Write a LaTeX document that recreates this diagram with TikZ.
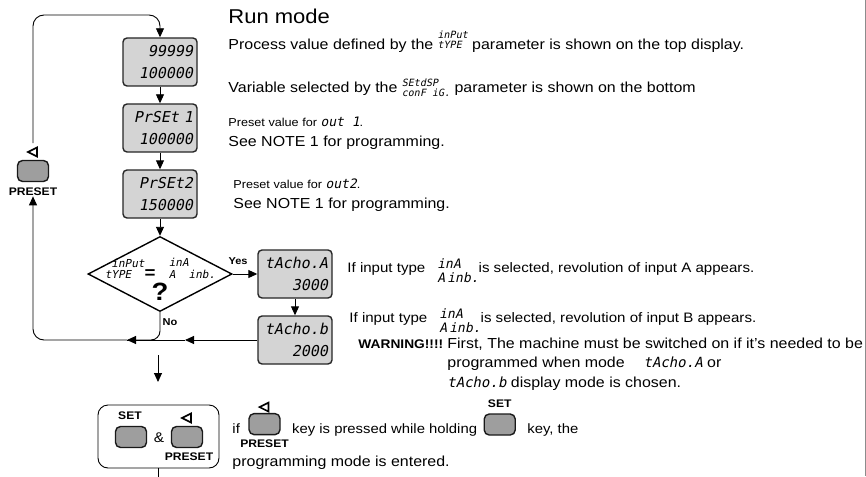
\documentclass[tikz,border=0pt]{standalone}
\usepackage{fontspec}
\setmainfont{Liberation Sans}[FakeStretch=1.1]
\newfontfamily\segfont{DejaVu Sans Mono}[FakeSlant=0.2]
\usetikzlibrary{positioning,shapes.geometric,arrows.meta}

% two stacked display words, as printed inside the text
\newcommand\segpair[4]{\raisebox{#1}{\segfont\fontsize{#2}{#2}\selectfont
  \begin{tabular}[b]{@{}l@{}}#3\\#4\end{tabular}}}
\newcommand\seg[2][13]{{\segfont\fontsize{#1}{#1}\selectfont #2}}

\tikzset{
  display/.style={draw=black!85, line width=1.4pt, rounded corners=4pt, fill=black!17,
    minimum width=74pt, minimum height=48pt, text width=66pt, align=right, inner sep=0pt,
    font=\segfont\fontsize{15}{22}\selectfont},
  keybtn/.style={draw=black!90, line width=1.4pt, rounded corners=5pt, fill=black!38,
    minimum width=31pt, minimum height=21pt, inner sep=0pt},
  keyname/.style={font=\bfseries\fontsize{11}{11}\selectfont, inner sep=0pt},
  branch/.style={font=\bfseries\fontsize{10}{10}\selectfont, inner sep=0pt},
  txt/.style={anchor=base west, inner sep=0pt, font=\fontsize{14.5}{17}\selectfont},
  smalltxt/.style={txt, font=\fontsize{11.5}{14}\selectfont},
  pretri/.pic={\draw[line width=1.6pt] (4,-4.5) -- (-5,0) -- (4,4.5) -- cycle;}
}

\begin{document}
\begin{tikzpicture}[x=1pt, y=-1pt, node distance=66pt, >={Triangle[length=9pt,width=8pt]}, line width=0.9pt]
\useasboundingbox (0,0) rectangle (866,476);

% run mode column
\node[display] (d1) at (160,62) {99999\\100000};
\node[display, below of=d1] (d2) {PrSEt 1\\100000};
\node[display, below of=d2] (d3) {PrSEt2\\150000};
\node[draw, diamond, line width=1.4pt, minimum width=144pt, minimum height=75pt, inner sep=0pt, below of=d3, yshift=-14pt] (dia) {};
\node[inner sep=0pt] (cond) at (160,270) {\segpair{0pt}{11}{\ inPut}{tYPE}\textbf{\fontsize{17}{17}\selectfont=}\segpair{0pt}{11}{\ \ inA}{\ \ A\ \ inb.}};
\node[inner sep=0pt, font=\bfseries\fontsize{25}{25}\selectfont, below=0pt of cond] (qm) {?};
\node[display, right of=dia, xshift=69pt] (ta) {tAcho.A\\3000};
\node[display, below of=ta] (tb) {tAcho.b\\2000};
\node[branch] (yes) at (238,261) {Yes};
\node[branch] (no) at (170,322) {No};

\draw[->] (d1) -- (d2);
\draw[->] (d2) -- (d3);
\draw[->] (d3) -- (dia);
\draw[->] (dia) -- (ta);
\draw[->] (ta) -- (tb);

% way back to the preset key
\node[keyname] (pn) at (33,192) {PRESET};
\node[keybtn] (pk) at (33,171) {};
\pic at (33,152) {pretri};
\coordinate (lt) at (33,143);
\coordinate (top) at (100,15);
\draw[->, rounded corners=11pt] (lt) |- (top) -| (d1.north);
\coordinate (m1) at (185,340);
\coordinate (m2) at (127,340);
\draw[->] (tb.west) -- (m1);
\draw (m1) -- (m2);
\draw[->, rounded corners=9pt] (dia.south) |- (m2);
\draw[->, rounded corners=11pt] (m2) -| (pn.south);

% set and preset together
\coordinate (ds) at (158,355);
\coordinate (de) at (158,382);
\draw[->] (ds) -- (de);
\node[draw, rounded corners=10pt, minimum width=121pt, minimum height=63pt] (panel) at (158.5,436.5) {};
\node[keyname] (sn) at (130,416) {SET};
\node[keybtn] (sk) at (131,437) {};
\node[inner sep=0pt, font=\fontsize{14}{14}\selectfont] (amp) at (159,438) {\&};
\pic at (187,418) {pretri};
\node[keybtn] (pk2) at (187,437) {};
\node[keyname] (pn2) at (189,457) {PRESET};
\draw (panel.south) -- ++(0,10);

% texts
\node[txt, font=\fontsize{20}{22}\selectfont] (rm) at (228,24) {Run mode};
\node[txt] (l1) at (228,50) {Process value defined by the \segpair{1pt}{10}{inPut}{tYPE} parameter is shown on the top display.};
\node[txt] (l2) at (228,93) {Variable selected by the \segpair{-4pt}{10}{SEtdSP}{conF iG.} parameter is shown on the bottom};
\node[smalltxt] (l3) at (228,126) {Preset value for \seg[13]{out 1}.};
\node[txt] (l4) at (228,146) {See NOTE 1 for programming.};
\node[smalltxt] (l5) at (233,188) {Preset value for \seg[13]{out2}.};
\node[txt] (l6) at (233,208) {See NOTE 1 for programming.};
\node[txt, font=\fontsize{13.7}{16}\selectfont] (l7) at (347,272) {If input type \segpair{-10pt}{13}{\ inA}{\ A\,inb.}is selected, revolution of input A appears.};
\node[txt, font=\fontsize{13.7}{16}\selectfont] (l8) at (349,322) {If input type \segpair{-10pt}{13}{\ inA}{\ A\,inb.}is selected, revolution of input B appears.};
\node[txt, font=\bfseries\fontsize{12.5}{15}\selectfont] (warn) at (358,348) {WARNING!!!!};
\node[txt] (w1) at (447,348) {First, The machine must be switched on if it's needed to be};
\node[txt] (w2) at (447,367) {programmed when mode \quad\seg[14]{tAcho.A} or};
\node[txt] (w3) at (447,387) {\seg[14]{tAcho.b} display mode is chosen.};

\node[txt, font=\fontsize{13.5}{16}\selectfont] (if) at (232,433) {if};
\node[keybtn, right=8pt of if.east, yshift=4pt] (k3) {};
\pic at ([yshift=17pt]k3.center) {pretri};
\node[keyname, below=4pt of k3] (k3n) {PRESET};
\path (k3.east |- if.base) ++(11,0) node[txt, font=\fontsize{13.5}{16}\selectfont] (kp) {key is pressed while holding};
\node[keybtn, right=6pt of kp.east, yshift=5pt] (k4) {};
\node[keyname, above=5pt of k4] (k4n) {SET};
\path (k4.east |- kp.base) ++(11,0) node[txt, font=\fontsize{13.5}{16}\selectfont] (kt) {key, the};
\node[txt] (pm) at (232,466) {programming mode is entered.};

\draw[black!45, line width=0.8pt] (865,0) -- (865,476);
\end{tikzpicture}
\end{document}
